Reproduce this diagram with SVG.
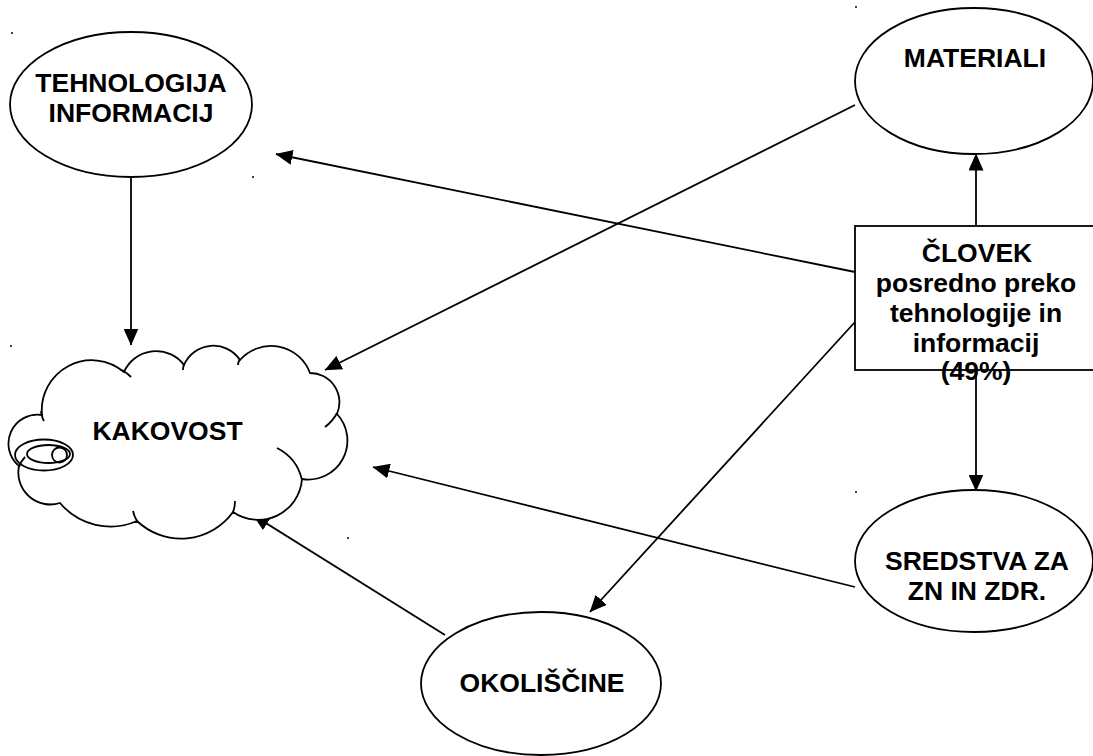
<svg xmlns="http://www.w3.org/2000/svg" width="1093" height="756" viewBox="0 0 1093 756">
<defs>
<marker id="ah" viewBox="0 0 17 15" refX="16.5" refY="7.5" markerWidth="17" markerHeight="15" markerUnits="userSpaceOnUse" orient="auto">
<path d="M0,0 L17,7.5 L0,15 z" fill="#000"/>
</marker>
</defs>
<style>
.shape{fill:#fff;stroke:#000;stroke-width:1.8}
.hook{fill:none;stroke:#000;stroke-width:1.8}
.conn{fill:none;stroke:#000;stroke-width:1.8;marker-end:url(#ah)}
.lbl{font-family:"Liberation Sans",Arial,sans-serif;font-weight:bold;font-size:26.5px;fill:#000;text-anchor:middle}
.dot{fill:#444}
</style>
<rect width="1093" height="756" fill="#fff"/>
<g id="dots">
<rect class="dot" x="10" y="345" width="2" height="2"/>
<rect class="dot" x="11" y="32" width="2" height="2"/>
<rect class="dot" x="252" y="176" width="2" height="2"/>
<rect class="dot" x="855" y="6" width="2" height="2"/>
<rect class="dot" x="855" y="491" width="2" height="2"/>
<rect class="dot" x="347" y="537" width="2" height="2"/>
</g>
<g id="connectors">
<line class="conn" x1="131" y1="177" x2="131" y2="345"/>
<line class="conn" x1="855" y1="105" x2="325" y2="370"/>
<line class="conn" x1="855" y1="272" x2="276" y2="154"/>
<line class="conn" x1="855" y1="322" x2="590" y2="612"/>
<line class="conn" x1="855" y1="587" x2="373" y2="467"/>
<line class="conn" x1="445" y1="635" x2="253" y2="515"/>
<line class="conn" x1="976" y1="226" x2="976" y2="154"/>
<line class="conn" x1="976" y1="370" x2="976" y2="491"/>
</g>
<g id="tehnologija">
<ellipse class="shape" cx="131" cy="104.5" rx="121" ry="72.5"/>
<text class="lbl" x="131" y="92">TEHNOLOGIJA</text>
<text class="lbl" x="131" y="122">INFORMACIJ</text>
</g>
<g id="materiali">
<ellipse class="shape" cx="974" cy="81" rx="119" ry="73"/>
<text class="lbl" x="975" y="67">MATERIALI</text>
</g>
<g id="clovek">
<rect class="shape" x="855" y="226" width="245" height="144"/>
<text class="lbl" x="977" y="262">ČLOVEK</text>
<text class="lbl" x="976" y="292">posredno preko</text>
<text class="lbl" x="976" y="322">tehnologije in</text>
<text class="lbl" x="976" y="352">informacij</text>
<text class="lbl" x="976" y="380">(49%)</text>
</g>
<g id="sredstva">
<ellipse class="shape" cx="974" cy="561" rx="119" ry="71"/>
<text class="lbl" x="977" y="570">SREDSTVA ZA</text>
<text class="lbl" x="977" y="600">ZN IN ZDR.</text>
</g>
<g id="okoliscine">
<ellipse class="shape" cx="541" cy="683.5" rx="120" ry="71.5"/>
<text class="lbl" x="542" y="692">OKOLIŠČINE</text>
</g>
<g id="kakovost">
<path class="shape" d="M42,415 A50,50 0 0,1 124,372 A35,35 0 0,1 184,365 A32,32 0 0,1 240,360 A41.5,41.5 0 0,1 310,373 A29.3,29.3 0 0,1 337,414 A39,39 0 0,1 302,479 A44,44 0 0,1 233,512 A64,64 0 0,1 137,521 A66,66 0 0,1 60,503 A32,32 0 0,1 19,466 A29,29 0 0,1 42,415 Z"/>
<path class="hook" d="M41,411 Q42,418 44,421 M122,370 Q127,373 131,377 M184,364 Q183,367 183,370 M240,359 Q238,362 238,365 M337,413 Q333,421 325,427 M277,448 Q297,458 302,480 M235,501 Q235,507 233,512 M137,521 Q134,516 133,511 M19,467 Q21,461 25,457"/>
<ellipse class="hook" cx="44" cy="455" rx="29" ry="15.5"/>
<ellipse class="hook" cx="48.5" cy="454" rx="21.5" ry="9"/>
<circle class="hook" cx="59.5" cy="455" r="7.5"/>
<text class="lbl" x="167.5" y="440">KAKOVOST</text>
</g>
</svg>
